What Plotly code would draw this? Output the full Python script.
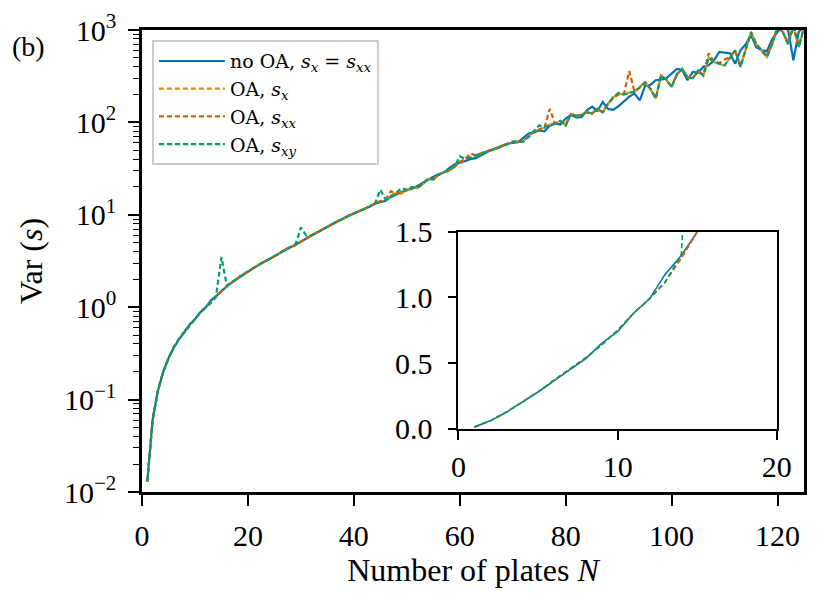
import plotly.graph_objects as go

# number of plates
N = list(range(1, 126))

# Var(s) without OA (s_x = s_xx)
var_no_oa = [
    0.013, 0.06, 0.125, 0.2, 0.28, 0.365, 0.45, 0.535, 0.65, 0.74,
    0.88, 0.99, 1.18, 1.32, 1.5, 1.68, 1.86, 2.04, 2.24, 2.44,
    2.64, 2.86, 3.08, 3.32, 3.56, 3.85, 4.15, 4.45, 4.75, 5.1,
    5.5, 5.95, 6.4, 6.9, 7.4, 7.95, 8.5, 9.1, 9.7, 10.3,
    10.9, 11.5, 12.3, 13.2, 13.8, 14.2, 15.6, 16.6, 17.6, 18.4,
    19.2, 20.5, 22.2, 24.0, 25.8, 27.5, 28.6, 32.0, 35.0, 36.5,
    38.5, 40.0, 41.0, 44.0, 47.0, 50.5, 53.0, 56.0, 59.0, 60.0,
    61.0, 68.0, 76.0, 78.0, 82.0, 80.0, 92.0, 97.0, 95.0, 110,
    120, 113, 114, 135, 148, 133, 166, 140, 137, 150,
    168, 190, 205, 173, 250, 255, 286, 290, 300, 340,
    380, 370, 286, 351, 345, 400, 415, 470, 578, 570,
    560, 432, 603, 700, 877, 650, 603, 590, 800, 950,
    1100, 1000, 470, 950, 1100,
]

# OA, s_x
var_oa_sx = [
    0.013, 0.06, 0.125, 0.2, 0.28, 0.37, 0.455, 0.54, 0.64, 0.75,
    0.88, 0.99, 1.12, 1.3, 1.5, 1.68, 1.86, 2.05, 2.25, 2.44,
    2.65, 2.85, 3.1, 3.3, 3.55, 3.85, 4.2, 4.45, 4.7, 5.1,
    5.6, 6.0, 6.4, 6.9, 7.4, 8.0, 8.5, 9.1, 9.8, 10.3,
    11.0, 11.6, 12.3, 13.3, 14.0, 14.6, 16.0, 17.5, 17.0, 18.5,
    20.0, 19.5, 21.5, 24.5, 24.0, 27.0, 29.0, 30.0, 33.0, 37.0,
    40.0, 42.0, 44.0, 46.0, 48.0, 50.0, 52.0, 55.0, 58.0, 62.0,
    62.0, 62.0, 70.0, 80.0, 85.0, 88.0, 95.0, 98.0, 104, 93,
    124, 118, 120, 130, 125, 140, 128, 160, 188, 205,
    200, 210, 215, 240, 273, 230, 181, 323, 290, 241,
    330, 380, 310, 300, 360, 320, 500, 451, 430, 413,
    500, 603, 398, 600, 950, 700, 603, 510, 700, 1100,
    950, 700, 1100, 650, 1050,
]

# OA, s_xx
var_oa_sxx = [
    0.013, 0.06, 0.125, 0.2, 0.28, 0.37, 0.455, 0.54, 0.64, 0.75,
    0.88, 0.99, 1.12, 1.3, 1.5, 1.68, 1.86, 2.05, 2.25, 2.44,
    2.65, 2.85, 3.1, 3.3, 3.55, 3.85, 4.2, 4.45, 4.7, 5.1,
    5.6, 6.0, 6.4, 6.9, 7.4, 8.0, 8.5, 9.1, 9.8, 10.3,
    11.0, 11.6, 12.3, 13.3, 14.0, 14.6, 18.0, 17.0, 17.2, 18.8,
    19.8, 19.8, 21.8, 24.2, 24.5, 27.2, 28.8, 30.5, 33.5, 37.5,
    40.0, 46.0, 44.0, 46.5, 48.5, 50.5, 52.0, 55.5, 58.0, 61.0,
    62.0, 63.0, 71.0, 79.0, 84.0, 88.0, 140, 97, 102, 95,
    122, 118, 121, 128, 126, 138, 130, 158, 185, 200,
    205, 360, 215, 238, 270, 232, 185, 318, 292, 245,
    335, 375, 312, 305, 355, 330, 560, 455, 440, 480,
    510, 600, 410, 610, 930, 700, 610, 530, 720, 1080,
    950, 720, 1100, 680, 1050,
]

# OA, s_xy
var_oa_sxy = [
    0.013, 0.06, 0.125, 0.2, 0.28, 0.37, 0.455, 0.54, 0.64, 0.75,
    0.88, 0.99, 1.12, 1.33, 3.5, 1.72, 1.86, 2.05, 2.25, 2.44,
    2.65, 2.85, 3.1, 3.3, 3.55, 3.85, 4.2, 4.45, 4.8, 7.3,
    6.0, 6.0, 6.4, 6.9, 7.4, 8.0, 8.5, 9.1, 9.8, 10.3,
    11.0, 11.6, 12.3, 13.3, 18.7, 14.6, 16.0, 17.2, 19.5, 18.5,
    20.0, 19.5, 21.5, 24.5, 24.0, 27.0, 29.0, 30.0, 33.0, 43.0,
    40.0, 42.0, 44.0, 46.0, 48.0, 50.0, 52.0, 55.0, 58.0, 62.0,
    62.0, 62.0, 70.0, 80.0, 93.0, 88.0, 95.0, 98.0, 104, 92,
    124, 118, 120, 130, 124, 140, 128, 160, 188, 210,
    200, 210, 215, 240, 273, 230, 181, 323, 290, 241,
    330, 380, 310, 300, 365, 320, 500, 451, 430, 413,
    500, 603, 398, 600, 950, 700, 603, 510, 700, 1100,
    950, 700, 1100, 650, 1050,
]

# axis ticks
y_ticks = [0.01, 0.1, 1, 10, 100, 1000]
y_ticktext = ["10<sup>\u22122</sup>", "10<sup>\u22121</sup>", "10<sup>0</sup>",
              "10<sup>1</sup>", "10<sup>2</sup>", "10<sup>3</sup>"]
y_minor = [m * d for d in [0.01, 0.1, 1, 10, 100] for m in range(2, 10)]
x_ticks = [0, 20, 40, 60, 80, 100, 120]
inset_x_ticks = [0, 10, 20]
inset_y_ticks = [0, 0.5, 1.0, 1.5]

series = [
    ("no OA, <i>s<sub>x</sub></i> = <i>s<sub>xx</sub></i>", var_no_oa, "#0173b2", "solid"),
    ("OA, <i>s<sub>x</sub></i>", var_oa_sx, "#de8f05", "5px,3px"),
    ("OA, <i>s<sub>xx</sub></i>", var_oa_sxx, "#d55e00", "5px,3px"),
    ("OA, <i>s<sub>xy</sub></i>", var_oa_sxy, "#029e73", "5px,3px"),
]

font_family = "Liberation Serif, DejaVu Serif, serif"

fig = go.Figure()

# main log plot
for name, vals, color, dash in series:
    fig.add_trace(go.Scatter(x=N, y=vals, mode="lines", name=name,
                             line=dict(color=color, width=2.2, dash=dash),
                             xaxis="x", yaxis="y"))

# inset (linear)
for name, vals, color, dash in series:
    fig.add_trace(go.Scatter(x=N, y=vals, mode="lines", name=name,
                             line=dict(color=color, width=1.6, dash=dash),
                             xaxis="x2", yaxis="y2", showlegend=False))

axis_style = dict(showline=True, linecolor="black", mirror=True,
                  ticks="outside", tickcolor="black", showgrid=False,
                  zeroline=False, automargin=False,
                  tickfont=dict(size=30))

fig.update_layout(
    width=830, height=593,
    margin=dict(l=142, r=26, t=30, b=101),
    paper_bgcolor="white", plot_bgcolor="white",
    font=dict(family=font_family, size=27, color="black"),
    xaxis=dict(**axis_style, range=[0, 125], tickvals=x_ticks,
               linewidth=2.5, ticklen=11, tickwidth=2, ticklabelstandoff=4,
               title=dict(text="Number of plates <i>N</i>", standoff=2)),
    yaxis=dict(**axis_style, type="log", range=[-2, 3], tickvals=y_ticks,
               ticktext=y_ticktext, linewidth=2.5, ticklen=11, tickwidth=2,
               ticklabelstandoff=6,
               minor=dict(ticks="outside", ticklen=6, tickwidth=1.3,
                          tickcolor="black", tickvals=y_minor),
               title=dict(text="Var (<i>s</i>)", standoff=12)),
    xaxis2=dict(**axis_style, domain=[0.478, 0.959], anchor="y2",
                range=[0, 20], tickvals=inset_x_ticks, linewidth=1.8,
                ticklen=9, tickwidth=1.8, ticklabelstandoff=1),
    yaxis2=dict(**axis_style, domain=[0.137, 0.563], anchor="x2",
                range=[0, 1.5], tickvals=inset_y_ticks, tickformat=".1f",
                linewidth=1.8, ticklen=9, tickwidth=1.8, ticklabelstandoff=9),
    legend=dict(x=0.015, y=0.978, xanchor="left", yanchor="top",
                bgcolor="rgba(255,255,255,0.85)", bordercolor="#cccccc",
                borderwidth=2, font=dict(family="DejaVu Serif", size=19),
                itemwidth=66, tracegroupgap=0),
    showlegend=True,
)

fig.add_annotation(text="(b)", x=-0.172, y=0.965, xref="paper", yref="paper",
                   xanchor="center", yanchor="middle", showarrow=False,
                   font=dict(size=28))

# drop the page's default 8px body margin so the figure sits at the top-left
fig.write_html("out.html", config={"displayModeBar": False},
               post_script="document.body.style.margin='0px';")
